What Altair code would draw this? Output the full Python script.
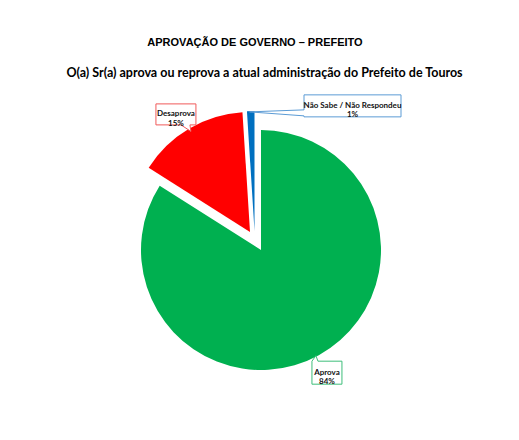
import math
import altair as alt
import pandas as pd

# ---- data ----
labels = ["Aprova", "Desaprova", "Não Sabe / Não Respondeu"]
values = [84, 15, 1]
colors = ["#00B050", "#FF0000", "#0070C0"]
titles = [
    "APROVAÇÃO DE GOVERNO – PREFEITO",
    "O(a) Sr(a) aprova ou reprova a atual administração do Prefeito de Touros",
]

df = pd.DataFrame({"label": labels, "value": values, "order": list(range(len(labels)))})
tdf = pd.DataFrame({"t": titles, "row": list(range(len(titles)))})

CX, CY, R, LR = 253, 242, 120, 140

base = alt.Chart(df).transform_window(
    end="sum(value)", sort=[alt.SortField("order")], frame=[None, 0]
).transform_calculate(
    start="datum.end - datum.value",
    mid="datum.end - datum.value / 2",
).transform_calculate(
    px=f"{CX} + {LR} * sin(2 * PI * datum.mid / 100)",
    py=f"{CY} - {LR} * cos(2 * PI * datum.mid / 100)",
    txt="datum.label + '\\n' + datum.value + '%'",
)

theta_scale = alt.Scale(domain=[0, 100], range=[0, 2 * math.pi])
color_scale = alt.Scale(domain=labels, range=colors)


def slice_layer(lbl, xo, yo):
    return base.transform_filter(alt.datum.label == lbl).mark_arc(
        radius=R, xOffset=xo, yOffset=yo
    ).encode(
        theta=alt.Theta("start:Q", scale=theta_scale),
        theta2=alt.Theta2("end"),
        color=alt.Color("label:N", scale=color_scale, legend=None),
        x=alt.value(CX),
        y=alt.value(CY),
    )


def label_layer(lbl, path, stroke, xo, yo):
    b = base.transform_filter(alt.datum.label == lbl)
    enc = dict(
        x=alt.X("px:Q", scale=None, axis=None),
        y=alt.Y("py:Q", scale=None, axis=None),
    )
    box = b.mark_point(
        shape=path, size=4, filled=True, fill="white", stroke=stroke,
        strokeWidth=1, opacity=1, xOffset=xo, yOffset=yo,
    ).encode(**enc)
    txt = b.mark_text(
        font="Lato", fontSize=8, fontWeight="bold", lineBreak="\n",
        lineHeight=9.5, color="#111111", align="center", baseline="middle",
        xOffset=xo, yOffset=yo,
    ).encode(text="txt:N", **enc)
    return box + txt


slices = [
    slice_layer("Aprova", 0, 0),
    slice_layer("Desaprova", -11, -18),
    slice_layer("Não Sabe / Não Respondeu", -6.5, -19),
]

callouts = [
    label_layer("Aprova", "M-15,-11.5L-11,-17L-9,-11.5H15V11.5H-15Z", "#3DBE7A", -1.5, 0),
    label_layer("Desaprova", "M-20,-10.5H20V10.5H14L15,17L5,10.5H-20Z", "#F05A5A", -13.8, -15.1),
    label_layer("Não Sabe / Não Respondeu",
                "M-48.5,-11H48.5V11H-48.5V10L-103,6L-48.5,4Z", "#5B9BD5", 95.9, -4.2),
]

tbase = alt.Chart(tdf)
t1 = tbase.transform_filter(alt.datum.row == 0).mark_text(
    font="Liberation Sans", fontSize=11, fontWeight="bold", color="#000000",
    align="center", baseline="middle",
).encode(x=alt.value(247), y=alt.value(35), text="t:N")
t2 = tbase.transform_filter(alt.datum.row == 1).mark_text(
    font="Lato", fontSize=12.5, fontWeight="bold", color="#000000",
    align="center", baseline="middle",
).encode(x=alt.value(256.5), y=alt.value(65), text="t:N")

chart = alt.layer(*slices, *callouts, t1, t2).properties(
    width=503, height=424, padding=0,
    autosize=alt.AutoSizeParams(type="none"),
).configure_view(stroke=None)

chart.save("out.html", embed_options={"renderer": "svg", "actions": False})
